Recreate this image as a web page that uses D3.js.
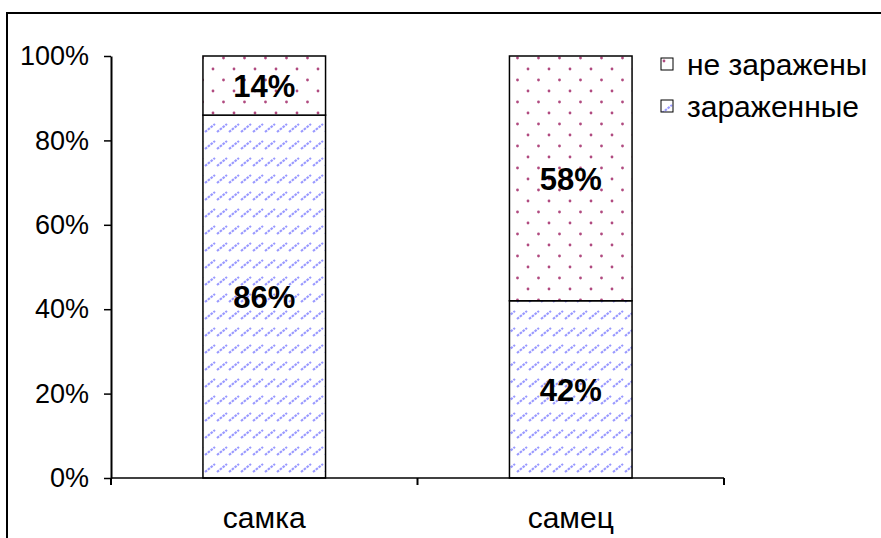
<!DOCTYPE html>
<html>
<head>
<meta charset="utf-8">
<script src="https://cdn.jsdelivr.net/npm/d3@7"></script>
<style>
  body { margin: 0; background: #fff; }
  svg { display: block; font-family: "Liberation Sans", Arial, sans-serif; }
</style>
</head>
<body>
<div id="chart"></div>
<script>
// Daten
const categories = ["самка", "самец"];
const infected = [86, 42];      // зараженные
const notInfected = [14, 58];   // не заражены
const seriesNames = ["не заражены", "зараженные"];
const yTicks = [0, 20, 40, 60, 80, 100];

const width = 881, height = 538;
const margin = {left: 111, right: 157, top: 56, bottom: 60};

const svg = d3.select("#chart").append("svg")
    .attr("width", width)
    .attr("height", height);

// Muster
const defs = svg.append("defs");
const dots = defs.append("pattern")
    .attr("id", "dots")
    .attr("patternUnits", "userSpaceOnUse")
    .attr("width", 21).attr("height", 22);
[[3, 3], [13.5, 14]].forEach(([cx, cy]) => {
    dots.append("circle").attr("cx", cx).attr("cy", cy).attr("r", 1.4).attr("fill", "#b04a80");
});
const hatch = defs.append("pattern")
    .attr("id", "hatch")
    .attr("patternUnits", "userSpaceOnUse")
    .attr("width", 12).attr("height", 17);
hatch.append("line")
    .attr("x1", 1).attr("y1", 13).attr("x2", 11).attr("y2", 5)
    .attr("stroke", "#8080ff").attr("stroke-width", 2.2)
    .attr("stroke-opacity", 0.8).attr("stroke-dasharray", "2.6,1");

// Rahmen (nur links und oben sichtbar)
svg.append("path")
    .attr("d", `M7,${height} V13 H${width}`)
    .attr("fill", "none").attr("stroke", "#000").attr("stroke-width", 2);

const x = d3.scaleBand()
    .domain(categories)
    .range([margin.left, width - margin.right])
    .paddingInner(0.6).paddingOuter(0.3);
const y = d3.scaleLinear()
    .domain([0, 100])
    .range([height - margin.bottom, margin.top]);

const rows = categories.map((c, i) => ({cat: c, inf: infected[i], not: notInfected[i]}));
const stack = d3.stack().keys(["inf", "not"])(rows);
const fills = {inf: "url(#hatch)", not: "url(#dots)"};

stack.forEach(layer => {
    svg.append("g").selectAll("rect")
        .data(layer).join("rect")
        .attr("x", d => x(d.data.cat))
        .attr("y", d => y(d[1]))
        .attr("width", x.bandwidth())
        .attr("height", d => y(d[0]) - y(d[1]))
        .attr("fill", "#fff");
    svg.append("g").selectAll("rect")
        .data(layer).join("rect")
        .attr("x", d => x(d.data.cat))
        .attr("y", d => y(d[1]))
        .attr("width", x.bandwidth())
        .attr("height", d => y(d[0]) - y(d[1]))
        .attr("fill", fills[layer.key])
        .attr("stroke", "#000").attr("stroke-width", 1.5);
    svg.append("g").selectAll("text")
        .data(layer).join("text")
        .attr("x", d => x(d.data.cat) + x.bandwidth() / 2)
        .attr("y", d => (y(d[0]) + y(d[1])) / 2)
        .attr("dy", "0.36em")
        .attr("text-anchor", "middle")
        .attr("font-size", 31).attr("font-weight", "bold")
        .text(d => (d[1] - d[0]) + "%");
});

// Achsen
const yAxis = svg.append("g")
    .attr("transform", `translate(${margin.left},0)`)
    .call(d3.axisLeft(y).tickValues(yTicks).tickFormat(d => d + "%").tickSize(7).tickSizeOuter(0));
yAxis.select(".domain").attr("stroke-width", 2);
yAxis.selectAll("text").attr("font-size", 27).attr("fill", "#000")
    .attr("font-family", "Liberation Sans, Arial, sans-serif").attr("x", -22);
yAxis.selectAll("line").attr("stroke-width", 1.5);

const xAxisY = y(0);
const xg = svg.append("g").attr("transform", `translate(0,${xAxisY})`);
const xEdges = [margin.left, ...categories.slice(1).map(c => x(c) - x.step() * x.paddingInner() / 2), width - margin.right];
xg.append("line")
    .attr("x1", margin.left).attr("x2", width - margin.right)
    .attr("stroke", "#000").attr("stroke-width", 1.5);
xg.selectAll("line.tick").data(xEdges).join("line")
    .attr("class", "tick")
    .attr("x1", d => d).attr("x2", d => d)
    .attr("y1", 0).attr("y2", 7)
    .attr("stroke", "#000").attr("stroke-width", 2);
xg.selectAll("text").data(categories).join("text")
    .attr("x", d => x(d) + x.bandwidth() / 2)
    .attr("y", 50)
    .attr("text-anchor", "middle")
    .attr("font-size", 30)
    .text(d => d);

// Legende
const legend = svg.append("g").attr("transform", "translate(661,58)");
seriesNames.forEach((name, i) => {
    const g = legend.append("g").attr("transform", `translate(0,${i * 42})`);
    g.append("rect").attr("width", 12).attr("height", 12).attr("fill", "#fff");
    g.append("rect").attr("width", 12).attr("height", 12)
        .attr("fill", i === 0 ? "url(#dots)" : "url(#hatch)")
        .attr("stroke", "#000").attr("stroke-width", 1);
    g.append("text").attr("x", 26).attr("y", 6).attr("dy", "0.36em")
        .attr("font-size", 30).text(name);
});
</script>
</body>
</html>
